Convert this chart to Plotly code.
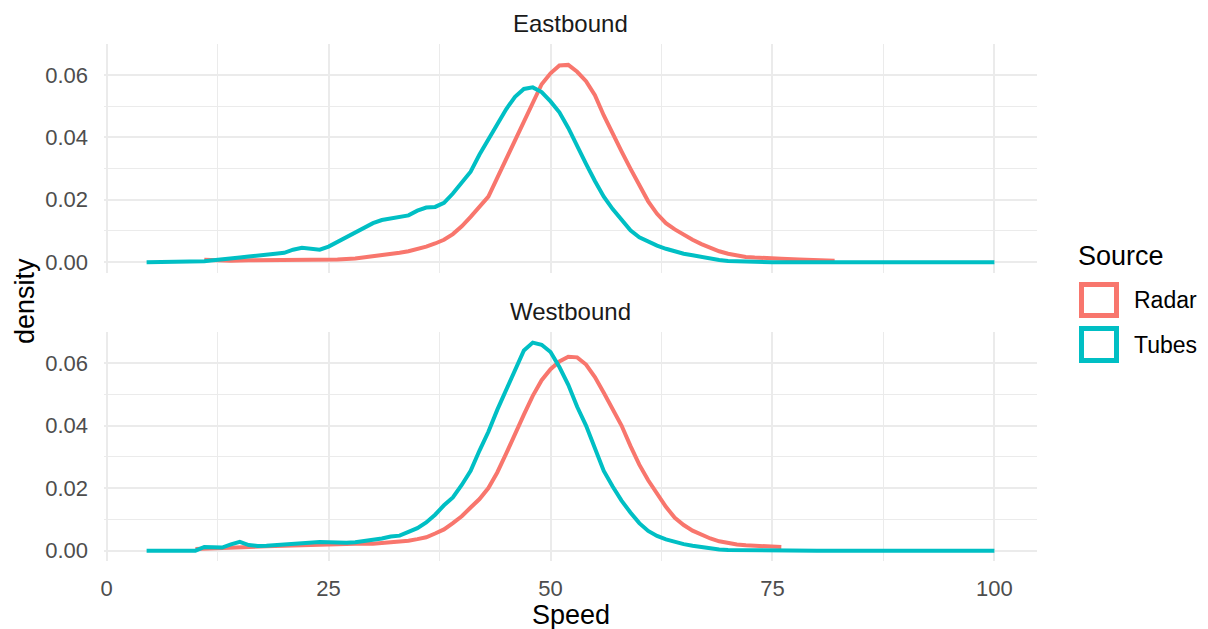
import plotly.graph_objects as go

W, H = 1208, 629

# ---- data ----
east_tubes_speed = [4.5, 10, 11, 12, 13, 14, 15, 16, 17, 18, 19, 20, 21, 22, 23, 24, 25, 26, 27, 28, 29,
                    30, 31, 32, 33, 34, 35, 36, 37, 38, 39, 40, 41, 42, 43, 44, 45, 46, 47, 48, 49,
                    50, 51, 52, 53, 54, 55, 56, 57, 58, 59, 60, 61, 62, 63, 64, 65, 66, 67, 68, 69,
                    70, 71, 72, 75, 80, 90, 100]
east_tubes_density = [0, 0, 0.0003, 0.0006, 0.001, 0.0013, 0.0015, 0.0018, 0.0022, 0.0025, 0.0027, 0.003,
                      0.004, 0.0046, 0.0042, 0.004, 0.005, 0.0065, 0.008, 0.0095, 0.011,
                      0.0125, 0.0135, 0.014, 0.0143, 0.015, 0.0165, 0.0175, 0.0177, 0.019, 0.022,
                      0.0255, 0.029, 0.0345, 0.0395, 0.0445, 0.049, 0.053, 0.0555, 0.056, 0.0545,
                      0.0515, 0.048, 0.043, 0.037, 0.0315, 0.026, 0.021, 0.017, 0.0135, 0.0102,
                      0.008, 0.0065, 0.0053, 0.0043, 0.0034, 0.0027, 0.0022, 0.0016, 0.0011, 0.0007,
                      0.0004, 0.0003, 0.0002, 0, 0, 0, 0]

east_radar_speed = [11, 12, 14, 16, 18, 20, 22, 24, 26, 28, 29, 30, 31, 32, 33, 34, 35, 36, 37, 38, 39,
                    40, 41, 42, 43, 44, 45, 46, 47, 48, 49, 50, 51, 52, 53, 54, 55, 56, 57, 58, 59,
                    60, 61, 62, 63, 64, 65, 66, 67, 68, 69, 70, 71, 72, 73, 74, 76, 78, 80, 82]
east_radar_density = [0.0008, 0.0006, 0.0005, 0.0006, 0.0006, 0.0007, 0.0007, 0.0008, 0.0009, 0.0012,
                      0.0015, 0.0018, 0.0021, 0.0025, 0.003, 0.0035, 0.0042, 0.005, 0.006, 0.0072, 0.009,
                      0.0115, 0.0145, 0.018, 0.021, 0.027, 0.033, 0.039, 0.045, 0.051, 0.057,
                      0.0605, 0.063, 0.0632, 0.061, 0.058, 0.0535, 0.047, 0.041, 0.0355, 0.030,
                      0.025, 0.0195, 0.0155, 0.0125, 0.0105, 0.0088, 0.0072, 0.0058, 0.0046, 0.0035,
                      0.0027, 0.0021, 0.0017, 0.0015, 0.0013, 0.0011, 0.0009, 0.0007, 0.0005]

west_tubes_speed = [4.5, 10, 11, 12, 13, 14, 15, 16, 17, 18, 19, 20, 21, 22, 23, 24, 25, 26, 27, 28, 29,
                    30, 31, 32, 33, 34, 35, 36, 37, 38, 39, 40, 41, 42, 43, 44, 45, 46, 47, 48, 49,
                    50, 51, 52, 53, 54, 55, 56, 57, 58, 59, 60, 61, 62, 63, 64, 65, 66, 67, 68, 69,
                    70, 72, 75, 80, 90, 100]
west_tubes_density = [0, 0, 0.0012, 0.0011, 0.001, 0.002, 0.0028, 0.0018, 0.0015, 0.0016, 0.0018, 0.002,
                      0.0022, 0.0024, 0.0027, 0.0028, 0.0027, 0.0025, 0.0025, 0.0027, 0.003,
                      0.0035, 0.0039, 0.0045, 0.0048, 0.006, 0.0072, 0.009, 0.0115, 0.0145, 0.017,
                      0.021, 0.0255, 0.032, 0.038, 0.045, 0.0515, 0.058, 0.064, 0.0665, 0.0658,
                      0.0635, 0.0587, 0.053, 0.046, 0.040, 0.0325, 0.0255, 0.0205, 0.016, 0.0122,
                      0.0088, 0.0063, 0.0047, 0.0036, 0.0028, 0.0021, 0.0016, 0.0011, 0.0007, 0.0004,
                      0.0002, 0.0001, 0, 0, 0, 0]

west_radar_speed = [10, 12, 14, 16, 18, 20, 22, 24, 26, 28, 30, 31, 32, 33, 34, 35, 36, 37, 38, 39,
                    40, 41, 42, 43, 44, 45, 46, 47, 48, 49, 50, 51, 52, 53, 54, 55, 56, 57, 58, 59,
                    60, 61, 62, 63, 64, 65, 66, 67, 68, 69, 70, 71, 72, 74, 76]
west_radar_density = [0.0005, 0.0008, 0.001, 0.0012, 0.0014, 0.0016, 0.0018, 0.002, 0.0022, 0.0022,
                      0.0022, 0.0024, 0.0027, 0.0028, 0.0032, 0.0037, 0.0043, 0.0055, 0.0068, 0.0088,
                      0.011, 0.0138, 0.0165, 0.020, 0.025, 0.031, 0.0375, 0.0435, 0.0495, 0.0545,
                      0.058, 0.0605, 0.062, 0.0618, 0.0595, 0.0555, 0.0505, 0.0455, 0.040, 0.0335,
                      0.0275, 0.0225, 0.018, 0.014, 0.0105, 0.0082, 0.0064, 0.005, 0.0039, 0.003,
                      0.0024, 0.002, 0.0017, 0.0014, 0.0012]

panels = ["Eastbound", "Westbound"]
sources = ["Radar", "Tubes"]
x_ticks = [0, 25, 50, 75, 100]
y_ticks = [0.00, 0.02, 0.04, 0.06]
y_tick_labels = ["0.00", "0.02", "0.04", "0.06"]

RADAR = "#F8766D"
TUBES = "#00BFC4"
FONT = "Liberation Sans, Arial, sans-serif"


def px(x):
    return x / W


def py(y):
    return 1 - y / H


fig = go.Figure()

series = [
    ("x", "y", east_radar_speed, east_radar_density, RADAR),
    ("x", "y", east_tubes_speed, east_tubes_density, TUBES),
    ("x2", "y2", west_radar_speed, west_radar_density, RADAR),
    ("x2", "y2", west_tubes_speed, west_tubes_density, TUBES),
]
for xa, ya, xs, ys, col in series:
    fig.add_trace(go.Scatter(x=xs, y=ys, mode="lines", xaxis=xa, yaxis=ya,
                             line=dict(color=col, width=4), showlegend=False,
                             hoverinfo="skip"))

grid_major = "#EBEBEB"
xr = [-0.3, 104.8]
yr = [-0.0033, 0.0698]
xdom = [px(104), px(1037)]

common_x = dict(range=xr, domain=xdom, tickvals=x_ticks, showgrid=True, gridcolor=grid_major,
                gridwidth=2, zeroline=False, showline=False, ticks="",
                minor=dict(tickvals=[12.5, 37.5, 62.5, 87.5], showgrid=True, gridcolor=grid_major,
                           gridwidth=1.2),
                tickfont=dict(family=FONT, size=22, color="#4D4D4D"), automargin=False)
common_y = dict(range=yr, tickvals=y_ticks, ticktext=y_tick_labels, showgrid=True,
                gridcolor=grid_major, gridwidth=2, zeroline=False, showline=False, ticks="",
                minor=dict(tickvals=[0.01, 0.03, 0.05], showgrid=True, gridcolor=grid_major,
                           gridwidth=1.2),
                tickfont=dict(family=FONT, size=22, color="#4D4D4D"), automargin=False,
                ticklabelstandoff=15)

fig.update_layout(
    width=W, height=H,
    margin=dict(l=0, r=0, t=0, b=0),
    paper_bgcolor="white", plot_bgcolor="white",
    showlegend=False,
    xaxis=dict(common_x, anchor="y", showticklabels=False),
    yaxis=dict(common_y, domain=[py(272.5), py(44.3)], anchor="x"),
    xaxis2=dict(common_x, anchor="y2", ticklabelstandoff=12),
    yaxis2=dict(common_y, domain=[py(561), py(332.3)], anchor="x2"),
)

ann = []
# strip titles
xc = (xdom[0] + xdom[1]) / 2
for name, ypix in zip(panels, [24, 312]):
    ann.append(dict(text=name, x=xc, y=py(ypix), xref="paper", yref="paper", showarrow=False,
                    xanchor="center", yanchor="middle",
                    font=dict(family=FONT, size=24, color="#1A1A1A")))
# axis titles
ann.append(dict(text="Speed", x=xc, y=py(615), xref="paper", yref="paper", showarrow=False,
                xanchor="center", yanchor="middle", font=dict(family=FONT, size=27, color="black")))
ann.append(dict(text="density", x=px(25), y=py(301), xref="paper", yref="paper", showarrow=False,
                textangle=-90, xanchor="center", yanchor="middle",
                font=dict(family=FONT, size=27, color="black")))
# legend
ann.append(dict(text="Source", x=px(1076), y=py(256), xref="paper", yref="paper", showarrow=False,
                xanchor="left", yanchor="middle", font=dict(family=FONT, size=27, color="black")))
shapes = []
for name, col, (y0, y1) in zip(sources, [RADAR, TUBES], [(284.5, 315.5), (328.5, 360.5)]):
    shapes.append(dict(type="rect", xref="paper", yref="paper", x0=px(1081.5), x1=px(1116.5),
                       y0=py(y1), y1=py(y0), line=dict(color=col, width=5), fillcolor="white"))
    ann.append(dict(text=name, x=px(1132), y=py((y0 + y1) / 2), xref="paper", yref="paper",
                    showarrow=False, xanchor="left", yanchor="middle",
                    font=dict(family=FONT, size=23, color="black")))

fig.update_layout(annotations=ann, shapes=shapes)
fig.write_html("out.html")
